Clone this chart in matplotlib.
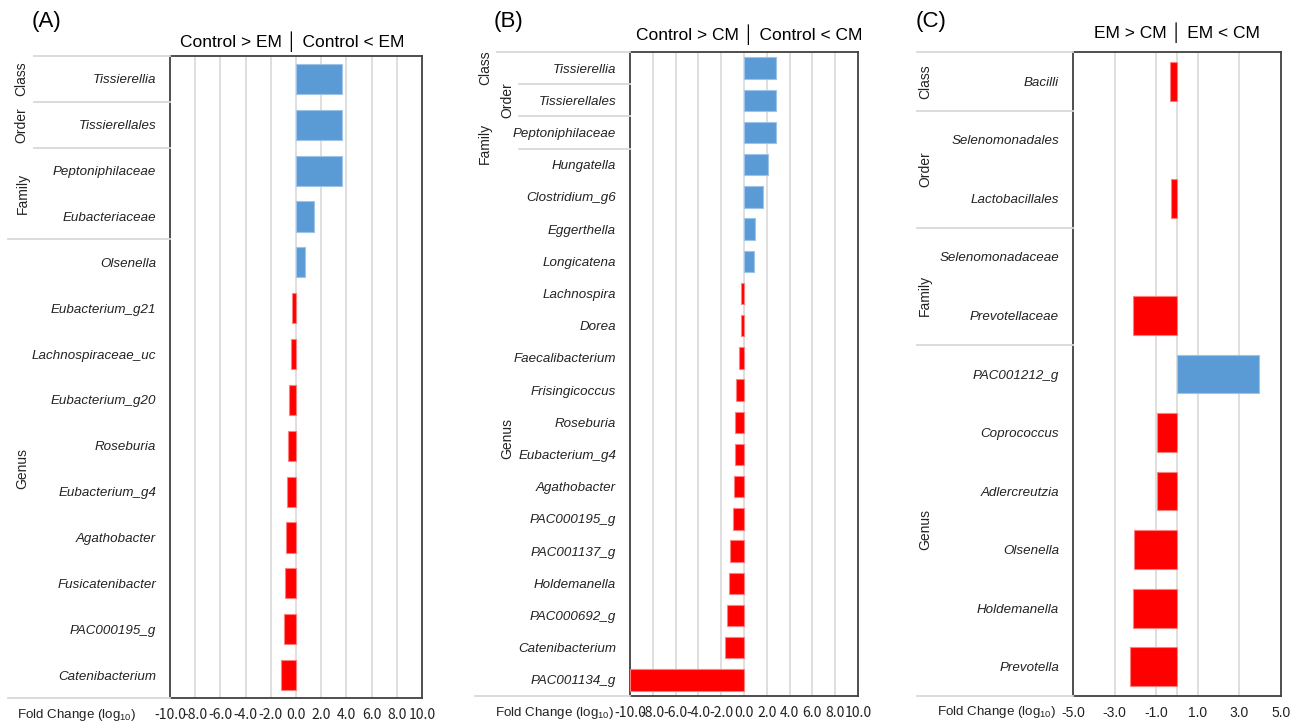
import matplotlib.pyplot as plt
import matplotlib.transforms as mtransforms
from matplotlib.lines import Line2D
import numpy as np

plt.rcParams['font.family'] = ['Liberation Sans', 'DejaVu Sans']
plt.rcParams['mathtext.fontset'] = 'custom'
plt.rcParams['mathtext.rm'] = 'Liberation Sans'

# ===== data =====
# (A) Control vs EM
a_labels = ['Tissierellia', 'Tissierellales', 'Peptoniphilaceae', 'Eubacteriaceae',
            'Olsenella', 'Eubacterium_g21', 'Lachnospiraceae_uc', 'Eubacterium_g20',
            'Roseburia', 'Eubacterium_g4', 'Agathobacter', 'Fusicatenibacter',
            'PAC000195_g', 'Catenibacterium']
a_values = [3.67, 3.67, 3.67, 1.39, 0.75, -0.28, -0.36, -0.57, -0.62, -0.75,
            -0.81, -0.86, -0.94, -1.2]
a_groups = [('Class', 0, 0), ('Order', 1, 1), ('Family', 2, 3), ('Genus', 4, 13)]

# (B) Control vs CM
b_labels = ['Tissierellia', 'Tissierellales', 'Peptoniphilaceae', 'Hungatella',
            'Clostridium_g6', 'Eggerthella', 'Longicatena', 'Lachnospira', 'Dorea',
            'Faecalibacterium', 'Frisingicoccus', 'Roseburia', 'Eubacterium_g4',
            'Agathobacter', 'PAC000195_g', 'PAC001137_g', 'Holdemanella',
            'PAC000692_g', 'Catenibacterium', 'PAC001134_g']
b_values = [2.84, 2.84, 2.84, 2.14, 1.67, 0.93, 0.9, -0.27, -0.3, -0.41, -0.68,
            -0.76, -0.76, -0.91, -0.94, -1.23, -1.35, -1.5, -1.67, -10.0]
b_groups = [('Class', 0, 0), ('Order', 1, 1), ('Family', 2, 2), ('Genus', 3, 19)]

# (C) EM vs CM
c_labels = ['Bacilli', 'Selenomonadales', 'Lactobacillales', 'Selenomonadaceae',
            'Prevotellaceae', 'PAC001212_g', 'Coprococcus', 'Adlercreutzia',
            'Olsenella', 'Holdemanella', 'Prevotella']
c_values = [-0.32, 0.0, -0.3, 0.0, -2.1, 3.96, -0.95, -0.97, -2.07, -2.1, -2.26]
c_groups = [('Class', 0, 0), ('Order', 1, 2), ('Family', 3, 4), ('Genus', 5, 10)]

W, H = 1301, 724
BLUE, BLUE_EDGE = '#5B9BD5', '#9DC3E6'
RED, RED_EDGE = '#FF0000', '#FF7F7F'
GRID = '#D9D9D9'
TXT = '#222222'

fig = plt.figure(figsize=(W / 100, H / 100), dpi=100)


def px_rect(x0, y0, x1, y1):
    return [x0 / W, 1 - y1 / H, (x1 - x0) / W, (y1 - y0) / H]


def draw_panel(rect, labels, values, groups, xlim, ticks, grid, header, tag,
               tag_x, fc_x, fc_y, sep_x, grp_x, grp_dy, tick_font):
    ax = fig.add_axes(px_rect(*rect))
    n = len(labels)
    y = np.arange(n)
    colors = [BLUE if v > 0 else RED for v in values]
    edges = [BLUE_EDGE if v > 0 else (RED_EDGE if v < 0 else 'none') for v in values]
    ax.barh(y, values, height=0.66, color=colors, edgecolor=edges, linewidth=0.8,
            zorder=3)
    ax.set_xlim(*xlim)
    ax.set_ylim(n - 0.5, -0.5)
    for g in grid:
        ax.axvline(g, color=GRID, lw=1.2, zorder=1)
    ax.set_xticks(ticks)
    ax.set_xticklabels([f'{t:.1f}' for t in ticks], family=tick_font,
                       fontsize=10, color=TXT)
    ax.set_yticks(y)
    ax.set_yticklabels(labels, style='italic', fontsize=9.6, color=TXT)
    ax.tick_params(length=0, axis='x', pad=7)
    ax.tick_params(length=0, axis='y', pad=10)
    for s in ax.spines.values():
        s.set_color('#404040')
        s.set_linewidth(1.3)

    # separators and group names on the left
    tr = mtransforms.blended_transform_factory(fig.transFigure, ax.transData)
    x_ax = rect[0] / W
    for i, (name, lo, hi) in enumerate(groups):
        fig.add_artist(Line2D([sep_x[i] / W, x_ax], [lo - 0.5, lo - 0.5],
                              transform=tr, color=GRID, lw=1.3))
        fig.text(grp_x[i] / W, (lo + hi) / 2 + grp_dy[i], name,
                 transform=tr, rotation=90, ha='center', va='center',
                 fontsize=10, color=TXT)
    fig.add_artist(Line2D([sep_x[-1] / W, x_ax], [n - 0.5, n - 0.5],
                          transform=tr, color=GRID, lw=1.3))

    # header, tag and axis caption
    fig.text(header[1] / W, 1 - header[2] / H, header[0], ha='center',
             va='center', fontsize=12.5, family=['Liberation Sans', 'DejaVu Sans'])
    fig.text(tag_x / W, 1 - 22 / H, tag, ha='left', va='center', fontsize=16)
    fig.text(fc_x / W, 1 - fc_y / H, 'Fold Change (log$_{10}$)',
             ha='left', va='center', fontsize=9.6, color=TXT)
    return ax


draw_panel((170, 56, 422, 698), a_labels, a_values, a_groups, (-10, 10),
           np.arange(-10, 11, 2), np.arange(-8, 9, 2),
           ('Control > EM │ Control < EM', 292.5, 42), '(A)', 32, 17, 715,
           [34, 34, 34, 8, 8], [21, 21, 23, 22], [0, 0, 0, 0], 'Noto Sans CJK KR')

draw_panel((630, 52, 858, 696), b_labels, b_values, b_groups, (-10, 10),
           np.arange(-10, 11, 2), np.arange(-8, 9, 2),
           ('Control > CM │ Control < CM', 749, 35), '(B)', 494, 495, 713,
           [497, 519, 519, 519, 475], [485, 507, 485, 507], [0, 0, 0.35, 0.5],
           'Noto Sans CJK KR')

draw_panel((1073, 52, 1281, 696), c_labels, c_values, c_groups, (-5, 5),
           np.arange(-5, 6, 2), [-3, -1, 0, 1, 3],
           ('EM > CM │ EM < CM', 1177, 33), '(C)', 916, 937, 712,
           [917, 917, 917, 917, 917], [925, 925, 925, 925], [0, 0, 0.15, 0.15],
           'Liberation Sans')

fig.savefig('out.png', dpi=100)
